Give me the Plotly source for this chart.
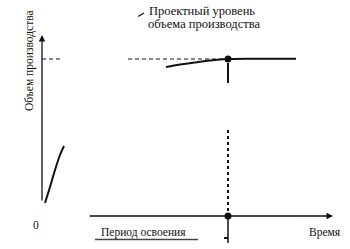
import plotly.graph_objects as go

# Data in chart units (x = time, y = production volume); origin bottom-left of canvas
early_t = [45, 50, 55, 60, 64]
early_v = [46, 62, 79, 94, 103]
late_t = [166, 180, 195, 210, 228, 260, 296]
late_v = [182, 184.5, 186.5, 188.5, 190, 190.3, 190.3]
design_level = 190
design_t = 228
axis_t0 = 88      # start of time axis
axis_v0 = 33      # level of time axis
upper_dots_v = [184, 180, 176, 172, 168]

W, H = 350, 249
fig = go.Figure()

black = "#111"
# dashed design level lines
for x0, x1 in [(42, 63), (128, design_t)]:
    fig.add_trace(go.Scatter(x=[x0, x1], y=[design_level, design_level], mode="lines",
                             line=dict(color=black, width=1, dash="4px,3px"), hoverinfo="skip"))
# vertical dotted line at end of period
fig.add_trace(go.Scatter(x=[design_t] * len(upper_dots_v), y=upper_dots_v, mode="markers",
                         marker=dict(symbol="line-ns", size=3, line=dict(color=black, width=2)),
                         hoverinfo="skip"))
fig.add_trace(go.Scatter(x=[design_t, design_t], y=[119, axis_v0], mode="lines",
                         line=dict(color=black, width=2, dash="3px,3px"), hoverinfo="skip"))
# curves
fig.add_trace(go.Scatter(x=early_t, y=early_v, mode="lines", line=dict(color=black, width=2, shape="spline"), hoverinfo="skip"))
fig.add_trace(go.Scatter(x=late_t, y=late_v, mode="lines", line=dict(color=black, width=2, shape="spline"), hoverinfo="skip"))
# vertical solid line below time axis
fig.add_trace(go.Scatter(x=[design_t, design_t], y=[axis_v0, 6], mode="lines", line=dict(color=black, width=1.5), hoverinfo="skip"))
fig.add_trace(go.Scatter(x=[224, design_t], y=[11, 11], mode="lines", line=dict(color=black, width=2), hoverinfo="skip"))
# underline of period label
fig.add_trace(go.Scatter(x=[95, 198], y=[9.5, 9.5], mode="lines", line=dict(color="#444", width=1.5), hoverinfo="skip"))
# leader line
fig.add_trace(go.Scatter(x=[138, 144], y=[232.5, 236], mode="lines", line=dict(color=black, width=1.3), hoverinfo="skip"))
# dots
fig.add_trace(go.Scatter(x=[design_t, design_t], y=[design_level, axis_v0], mode="markers",
                         marker=dict(color=black, size=7), hoverinfo="skip"))

# axes with arrows
fig.add_annotation(x=42, y=214, ax=42, ay=47, xref="x", yref="y", axref="x", ayref="y",
                   showarrow=True, arrowhead=2, arrowsize=1, arrowwidth=1.3, arrowcolor=black, text="")
fig.add_annotation(x=333, y=axis_v0, ax=axis_t0, ay=axis_v0, xref="x", yref="y", axref="x", ayref="y",
                   showarrow=True, arrowhead=2, arrowsize=1, arrowwidth=1.3, arrowcolor=black, text="")

font = dict(family="Liberation Serif", size=11.5, color=black)
font_top = dict(family="Liberation Serif", size=12.5, color=black)
fig.add_annotation(x=147, y=238, xref="x", yref="y", text="Проектный уровень",
                   showarrow=False, xanchor="left", yanchor="middle", font=font_top)
fig.add_annotation(x=146, y=225, xref="x", yref="y", text="объема производства",
                   showarrow=False, xanchor="left", yanchor="middle", font=font_top)
fig.add_annotation(x=29, y=188, xref="x", yref="y", text="Объем производства", textangle=-90,
                   showarrow=False, font=font)
fig.add_annotation(x=36, y=24, xref="x", yref="y", text="0", showarrow=False, font=font)
fig.add_annotation(x=99, y=17, xref="x", yref="y", text="Период освоения", showarrow=False,
                   xanchor="left", font=font)
fig.add_annotation(x=307, y=17, xref="x", yref="y", text="Время", showarrow=False,
                   xanchor="left", font=font)

fig.update_layout(width=W, height=H, margin=dict(l=0, r=0, t=0, b=0), showlegend=False,
                  paper_bgcolor="white", plot_bgcolor="white",
                  xaxis=dict(range=[0, W], visible=False, fixedrange=True),
                  yaxis=dict(range=[0, H], visible=False, fixedrange=True))
fig.write_html("out.html", config={"displayModeBar": False})
